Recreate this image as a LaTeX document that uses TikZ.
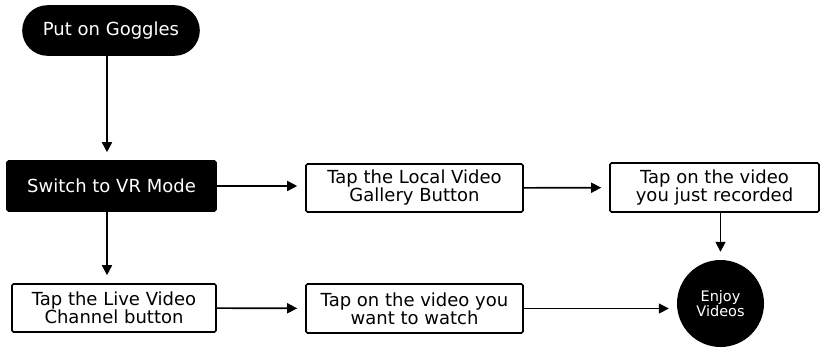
\documentclass[tikz,border=0pt]{standalone}
\usepackage{fontspec}
\setmainfont{DejaVu Sans}
\usepackage{tikz}
\usetikzlibrary{arrows.meta,positioning,shapes.geometric}

\begin{document}
\begin{tikzpicture}[
  x=1pt, y=-1pt,
  font=\fontsize{18}{18}\selectfont,
  box/.style={draw, line width=1.6pt, rounded corners=1.5pt, align=center, inner sep=0pt, minimum height=48pt, fill=white},
  dark/.style={box, fill=black, text=white},
  term/.style={dark, rounded corners=24.5pt, minimum height=49pt},
  endc/.style={circle, fill=black, text=white, align=center, minimum size=87pt, inner sep=0pt, font=\fontsize{14.5}{15.5}\selectfont},
  arr/.style={-{Triangle[length=10pt, width=10pt]}, line width=1.6pt, shorten >=8pt}
]
\useasboundingbox (0,0) rectangle (821,348);
% Start
\node[term, minimum width=176pt] (goggles) at (111,30.5) {Put on Goggles};
\node[dark, minimum width=209pt, minimum height=50pt] (switch) at (111.5,186) {Switch to VR Mode};
\draw[arr] ([xshift=-4pt]goggles.south) -- ([xshift=-4pt]goggles.south |- switch.north);
% Local branch
\node[box, minimum width=217pt] (local) at (414.5,188) {Tap the Local Video\\Gallery Button};
\node[box, minimum width=209pt, minimum height=49pt] (rec) at (714.5,187.5) {Tap on the video\\you just recorded};
\draw[arr] (switch.east) -- (switch.east -| local.west);
\draw[arr] (local) -- (rec);
% Live branch
\node[box, minimum width=204pt] (live) at (114,308) {Tap the Live Video\\Channel button};
\node[box, minimum width=217pt, minimum height=49pt] (watch) at (414.5,308.5) {Tap on the video you\\want to watch};
\draw[arr] ([xshift=-4.5pt]switch.south) -- ([xshift=-4.5pt]switch.south |- live.north);
\draw[arr] (live) -- (watch);
% End
\node[endc] (enjoy) at (720.5,303.5) {Enjoy\\Videos};
\draw[arr] (rec.south -| enjoy.north) -- (enjoy.north);
\draw[arr] (watch.east) -- (watch.east -| enjoy.west);
\end{tikzpicture}
\end{document}
